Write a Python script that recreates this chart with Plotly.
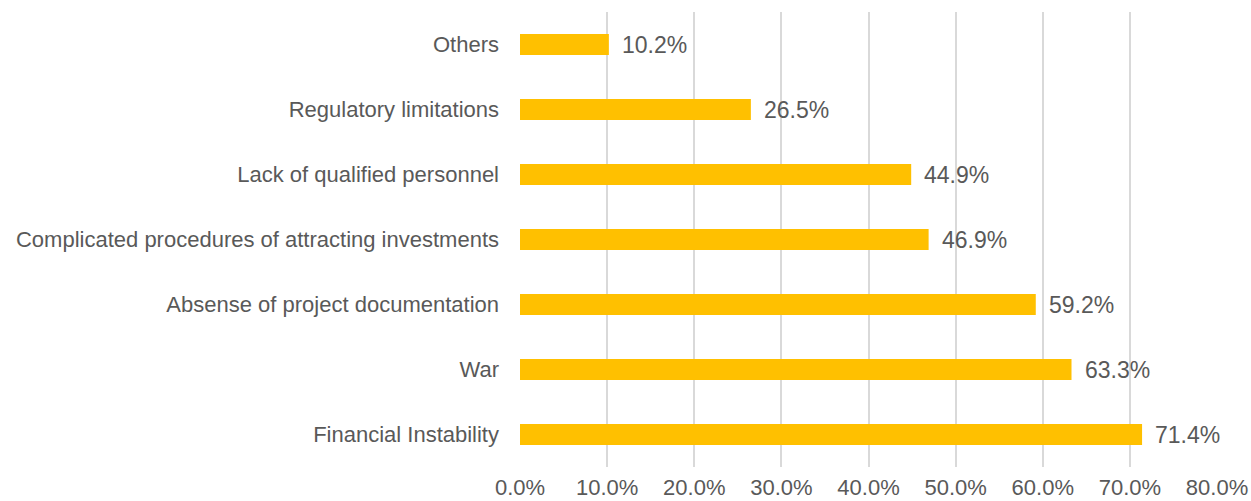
import plotly.graph_objects as go

# Survey results: main obstacles, share of respondents (%)
categories = [
    "Financial Instability",
    "War",
    "Absense of project documentation",
    "Complicated procedures of attracting investments",
    "Lack of qualified personnel",
    "Regulatory limitations",
    "Others",
]
values = [71.4, 63.3, 59.2, 46.9, 44.9, 26.5, 10.2]
x_ticks = [0, 10, 20, 30, 40, 50, 60, 70, 80]

FONT = "Liberation Sans, Arial, sans-serif"
GREY = "#595959"

fig = go.Figure(
    go.Bar(
        y=categories,
        x=values,
        orientation="h",
        marker=dict(color="#FFC000", line=dict(width=0)),
        width=0.323,
        hoverinfo="x+y",
    )
)

# value labels to the right of each bar
for cat, val in zip(categories, values):
    fig.add_annotation(
        x=val,
        y=cat,
        text=f"{val:.1f}%",
        showarrow=False,
        xanchor="left",
        yanchor="middle",
        xshift=11,
        font=dict(family=FONT, size=23, color=GREY),
    )

fig.update_layout(
    width=1251,
    height=501,
    margin=dict(l=520, r=34, t=12, b=34),
    paper_bgcolor="white",
    plot_bgcolor="white",
    showlegend=False,
    font=dict(family=FONT, size=22, color=GREY),
    xaxis=dict(
        range=[0, 80],
        tickvals=x_ticks,
        ticktext=[f"{t:.1f}%" for t in x_ticks],
        showgrid=True,
        gridcolor="#D9D9D9",
        gridwidth=1.5,
        zeroline=False,
        showline=False,
        ticks="",
        automargin=False,
        ticklabelstandoff=5,
        tickfont=dict(family=FONT, size=22, color=GREY),
    ),
    yaxis=dict(
        categoryorder="array",
        categoryarray=categories,
        showgrid=False,
        zeroline=False,
        showline=False,
        ticks="",
        automargin=False,
        ticklabelstandoff=20,
        tickfont=dict(family=FONT, size=22, color=GREY),
    ),
)

fig.write_html("out.html")
